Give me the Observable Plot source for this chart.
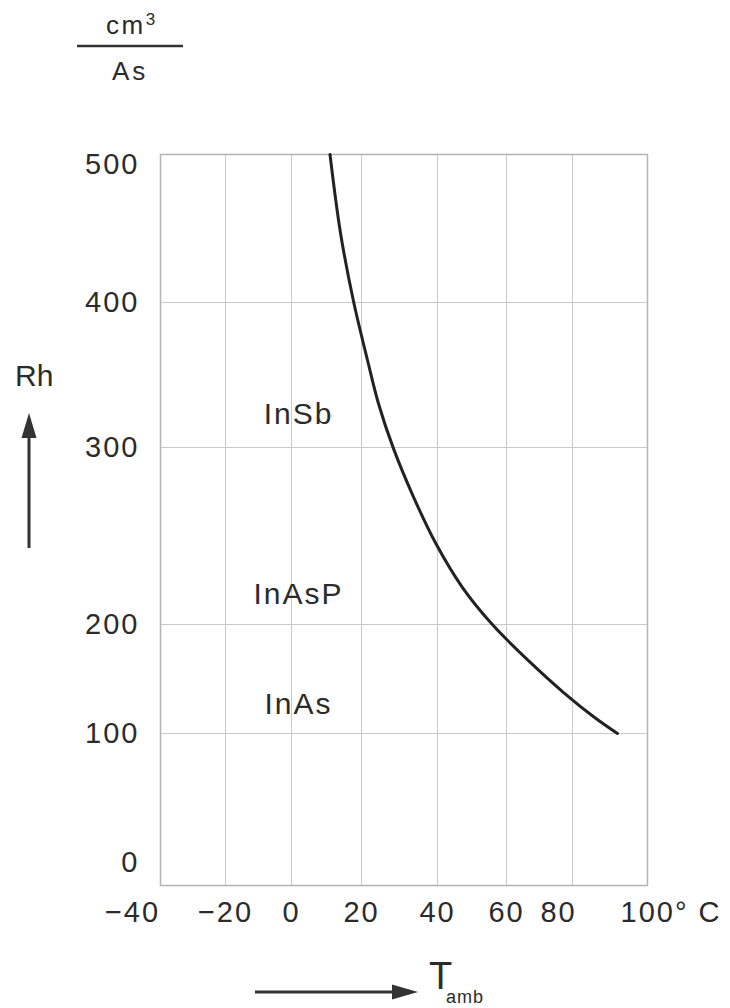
<!DOCTYPE html>
<html><head><meta charset="utf-8">
<script src="https://cdn.jsdelivr.net/npm/d3@7"></script>
<script src="https://cdn.jsdelivr.net/npm/@observablehq/plot@0.6"></script>
<style>
body{margin:0;background:#fff;}
#wrap{position:relative;width:730px;height:1008px;font-family:"Liberation Sans",Arial,sans-serif;color:#2b2b2b;}
#wrap svg{position:absolute;left:0;top:0;}
.lbl{position:absolute;white-space:nowrap;line-height:1;color:#2b2b2b;}
</style></head><body><div id="wrap"></div>
<script>
// ---- data ----
const tempTicks = [-40, -20, 0, 20, 40, 60, 80, 100];
const rhTicks = [0, 100, 200, 300, 400, 500];
const curveT  = [11, 14, 17.7, 21.6, 24.5, 28.4, 33.7, 39.5, 47.2, 55.9, 67.3, 77.3, 85.9, 92];
const curveRh = [500, 447, 401, 360, 330, 299.5, 272, 246, 221, 200, 165, 137.6, 114.7, 100];
const materials = ["InSb", "InAsP", "InAs"];
const materialT = [2, 2, 2];
const materialRh = [323, 217, 127];

// ---- layout: the printed grid is non-uniform, so each axis is piecewise-linear ----
const xStops = [160, 225, 291, 361, 437, 506, 572, 647];
const yStops = [885, 733, 624, 447, 302, 154];
const xPiece = d3.scaleLinear().domain(tempTicks).range(xStops);
const yPiece = d3.scaleLinear().domain(rhTicks).range(yStops);

const fmt = d => d < 0 ? "\u2212" + Math.abs(d) : String(d);
const curveData = curveT.map((t, i) => ({t, rh: curveRh[i]}));
const labelData = materials.map((m, i) => ({m, t: materialT[i], rh: materialRh[i]}));

const axX = {tickSize: 0, tickPadding: 16, label: null, tickFormat: fmt};
const axY = {tickSize: 0, tickPadding: 21, label: null};

const chart = Plot.plot({
  width: 730, height: 1008,
  marginLeft: 160, marginRight: 83, marginTop: 154, marginBottom: 123,
  style: {fontFamily: '"Liberation Sans", Arial, sans-serif', fontSize: "29px", color: "#2b2b2b", background: "transparent", letterSpacing: "2px"},
  x: {transform: xPiece, domain: [160, 647], range: [160, 647]},
  y: {transform: yPiece, domain: [885, 154], range: [885, 154]},
  marks: [
    Plot.gridX(tempTicks.slice(1, -1), {stroke: "#cacaca", strokeOpacity: 1, strokeWidth: 1}),
    Plot.gridY(rhTicks.slice(1, -1), {stroke: "#cacaca", strokeOpacity: 1, strokeWidth: 1}),
    Plot.frame({stroke: "#b4b4b4", strokeWidth: 1.5}),
    Plot.axisX([-20, 0, 20, 40, 60], axX),
    Plot.axisX([-40], {...axX, dx: -28}),
    Plot.axisX([80], {...axX, dx: -14}),
    Plot.axisX([100], {...axX, textAnchor: "start", dx: -27, tickFormat: d => d + "\u00b0 C"}),
    Plot.axisY([100, 200, 300, 400], axY),
    Plot.axisY([500], {...axY, dy: 10}),
    Plot.axisY([0], {...axY, dy: -23}),
    Plot.line(curveData, {x: "t", y: "rh", stroke: "#222", strokeWidth: 3, curve: "catmull-rom"}),
    Plot.text(labelData, {x: "t", y: "rh", text: "m", fontSize: 30, fill: "#2b2b2b"})
  ]
});

const wrap = document.getElementById("wrap");
wrap.appendChild(chart);

// decorations: unit fraction, axis name arrows
wrap.insertAdjacentHTML("beforeend", `
<div class="lbl" style="left:106px;top:12px;font-size:26px;letter-spacing:2.5px;">cm<span style="font-size:17px;vertical-align:top;position:relative;top:-1px;letter-spacing:0;">3</span></div>
<div class="lbl" style="left:112px;top:58px;font-size:26px;letter-spacing:3px;">As</div>
<div class="lbl" style="left:15px;top:361px;font-size:30px;">Rh</div>
<div class="lbl" style="left:429px;top:957px;font-size:38px;">T</div>
<div class="lbl" style="left:446px;top:988px;font-size:18px;letter-spacing:1px;">amb</div>
<svg width="730" height="1008" style="pointer-events:none">
  <line x1="77" x2="183" y1="46" y2="46" stroke="#333" stroke-width="2.5"/>
  <line x1="29" x2="29" y1="548" y2="432" stroke="#333" stroke-width="3"/>
  <polygon points="29,413 21.5,438 36.5,438" fill="#333"/>
  <line x1="255" x2="400" y1="992" y2="992" stroke="#333" stroke-width="3"/>
  <polygon points="418,992 392,984.5 392,999.5" fill="#333"/>
</svg>`);
</script>
</body></html>
